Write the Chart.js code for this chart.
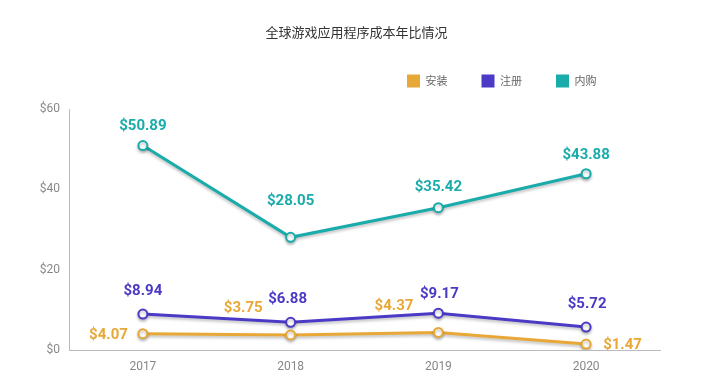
<!DOCTYPE html>
<html>
<head>
<meta charset="utf-8">
<script src="https://cdn.jsdelivr.net/npm/chart.js@4.4.0/dist/chart.umd.min.js"></script>
<style>
  html, body { margin: 0; padding: 0; background: #fff; }
  #wrap { width: 713px; height: 386px; }
</style>
</head>
<body>
<div id="wrap"><canvas id="costChart" width="713" height="386"></canvas></div>
<script>
const years = ['2017', '2018', '2019', '2020'];
const installCost = [4.07, 3.75, 4.37, 1.47];
const registerCost = [8.94, 6.88, 9.17, 5.72];
const purchaseCost = [50.89, 28.05, 35.42, 43.88];
const seriesNames = ['安装', '注册', '内购'];
const yTicks = [0, 20, 40, 60];

const colors = ['#E8A838', '#4A3AC6', '#1AABAB'];

// label offsets from each point: [dx, dy, align]
const labelOffsets = [
    [[-15, 2, 'right'], [-28, -27, 'right'], [-25, -26, 'right'], [17, 1, 'left']],
    [[0, -23, 'center'], [-3, -23, 'center'], [1, -19, 'center'], [1, -23, 'center']],
    [[0, -19, 'center'], [0, -36, 'center'], [0, -20, 'center'], [0, -18, 'center']]
];

const valueLabels = {
    id: 'valueLabels',
    afterDatasetsDraw(chart) {
        const ctx = chart.ctx;
        ctx.save();
        ctx.font = 'bold 15px Roboto';
        ctx.textBaseline = 'middle';
        chart.data.datasets.forEach((ds, i) => {
            chart.getDatasetMeta(i).data.forEach((pt, j) => {
                const off = labelOffsets[i][j];
                ctx.fillStyle = colors[i];
                ctx.textAlign = off[2];
                ctx.fillText('$' + ds.data[j].toFixed(2), pt.x + off[0], pt.y + off[1]);
            });
        });
        ctx.restore();
    }
};

const lineShadow = {
    id: 'lineShadow',
    beforeDatasetsDraw(chart) {
        const ctx = chart.ctx;
        ctx.save();
        ctx.shadowColor = 'rgba(0,0,0,0.25)';
        ctx.shadowBlur = 3;
        ctx.shadowOffsetY = 2;
    },
    afterDatasetsDraw(chart) {
        chart.ctx.restore();
    }
};

// keep the legend and title where the original has them
const headerPlace = {
    id: 'headerPlace',
    beforeInit(chart) {
        const fit = chart.legend.fit;
        chart.legend.fit = function () {
            fit.bind(chart.legend)();
            this.height = 68.4;
        };
    },
    beforeDraw(chart) {
        chart.legend.right = 630.5;
        chart.titleBlock.left = 0;
        chart.titleBlock.right = 713;
    }
};

function makeDataset(i, values) {
    return {
        label: seriesNames[i],
        data: values,
        borderColor: colors[i],
        backgroundColor: colors[i],
        borderWidth: 3,
        pointRadius: 4.5,
        pointBorderWidth: 2,
        pointBackgroundColor: '#fff',
        pointBorderColor: colors[i],
        tension: 0
    };
}

new Chart(document.getElementById('costChart').getContext('2d'), {
    type: 'line',
    data: {
        labels: years,
        datasets: [
            makeDataset(0, installCost),
            makeDataset(1, registerCost),
            makeDataset(2, purchaseCost)
        ]
    },
    options: {
        responsive: false,
        animation: false,
        layout: { padding: { left: 0, right: 53, top: 0, bottom: 0 } },
        scales: {
            x: {
                offset: true,
                grid: { display: false, drawTicks: false },
                border: { color: '#bbb', width: 1 },
                ticks: { color: '#888', font: { family: 'Roboto', size: 12 }, padding: 10 },
                afterFit(scale) { scale.height = 36; }
            },
            y: {
                min: 0,
                max: 60,
                grid: { display: false, drawTicks: false },
                border: { color: '#bbb', width: 1 },
                afterBuildTicks(scale) { scale.ticks = yTicks.map(v => ({ value: v })); },
                ticks: {
                    color: '#888',
                    font: { family: 'Roboto', size: 12 },
                    padding: 9,
                    callback: v => '$' + v
                },
                afterFit(scale) { scale.width = 69; }
            }
        },
        plugins: {
            title: {
                display: true,
                text: '全球游戏应用程序成本年比情况',
                color: '#333',
                font: { family: 'Noto Sans CJK SC', size: 13, weight: 'normal' },
                padding: { top: 24, bottom: 1 }
            },
            legend: {
                position: 'top',
                align: 'end',
                labels: {
                    boxWidth: 13,
                    boxHeight: 13,
                    padding: 34,
                    color: '#666',
                    font: { family: 'Noto Sans CJK SC', size: 11 },
                    generateLabels(chart) {
                        return chart.data.datasets.map((ds, i) => ({
                            text: ds.label,
                            fillStyle: colors[i],
                            strokeStyle: colors[i],
                            lineWidth: 0,
                            fontColor: '#666',
                            datasetIndex: i
                        }));
                    }
                }
            },
            tooltip: { enabled: false }
        }
    },
    plugins: [lineShadow, valueLabels, headerPlace]
});
</script>
</body>
</html>
